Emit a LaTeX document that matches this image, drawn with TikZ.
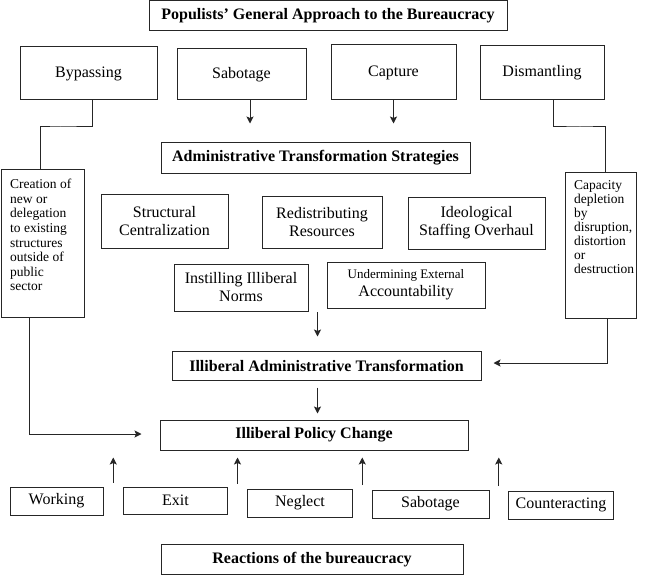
\documentclass[tikz,border=0pt]{standalone}
\usepackage{fontspec}
\setmainfont{Liberation Serif}
\usetikzlibrary{arrows.meta, positioning, calc}

\tikzset{
  box/.style={draw=black!85, line width=1pt, inner sep=0pt, align=center, font=\fontsize{16}{18}\selectfont},
  hdr/.style={box, font=\fontsize{16}{18}\selectfont\bfseries},
  sz/.style 2 args={minimum width=#1pt, minimum height=#2pt},
  sidetext/.style={inner sep=0pt, align=left, font=\fontsize{13.5}{#1}\selectfont},
  link/.style={line width=1pt, black!85},
  arr/.style={link, -{Stealth[length=7pt,width=7pt,inset=1.5pt]}},
}

\begin{document}
\begin{tikzpicture}[x=1pt,y=-1pt]
    \useasboundingbox (0,0) rectangle (645,575);

    % Top: general approach and the four routes
    \node[hdr, sz={358}{30}] (title) at (328,16) {Populists’ General Approach to the Bureaucracy};
    \node[box, sz={137}{53}] (byp)  at (88.5,73.5) {Bypassing};
    \node[box, sz={129}{51}] (sabA) at (241.5,74.5) {Sabotage};
    \node[box, sz={125}{55}] (capt) at (393.5,72.5) {Capture};
    \node[box, sz={124}{54}] (dism) at (542,73) {Dismantling};

    % Strategies
    \node[hdr, sz={309}{30}] (ats) at (315.5,158) {Administrative Transformation Strategies};
    \node[box, sz={127}{54}] (struc)  at (164.5,221) {Structural\\Centralization};
    \node[box, sz={120}{52}] (redis)  at (322,222) {Redistributing\\Resources};
    \node[box, sz={137}{52}] (ideo)   at (476.5,223) {Ideological\\Staffing Overhaul};
    \node[box, sz={134}{47}] (instil) at (241,287.5) {Instilling Illiberal\\Norms};
    \node[box, sz={158}{46}] (under)  at (406,285) {{\fontsize{13}{15}\selectfont Undermining External}\\Accountability};

    % Side boxes
    \node[box, sz={83}{148}] (creat) at (42.5,243) {};
    \node[sidetext=14.6, anchor=north west] (creatT) at (10,179)
        {Creation of\\new or\\delegation\\to existing\\structures\\outside of\\public\\sector};
    \node[box, sz={71}{146}] (capa) at (600.5,245) {};
    \node[sidetext=14, anchor=north west] (capaT) at (574,180.5)
        {Capacity\\depletion\\by\\disruption,\\distortion\\or\\destruction};

    % Outcomes
    \node[hdr, sz={309}{29}] (iat) at (326.5,365.5) {Illiberal Administrative Transformation};
    \node[hdr, sz={308}{30}] (ipc) at (314,435) {Illiberal Policy Change};

    % Reactions
    \node[box, sz={93}{28}]  (work) at (56.5,501) {Working};
    \node[box, sz={104}{27}] (exit) at (175.5,500.5) {Exit};
    \node[box, sz={105}{28}] (negl) at (300,503) {Neglect};
    \node[box, sz={117}{28}] (sabB) at (430.5,504) {Sabotage};
    \node[box, sz={105}{28}] (coun) at (561,505) {Counteracting};
    \node[hdr, sz={302}{30}] (react) at (312,559.5) {Reactions of the bureaucracy};

    % Connectors
    \coordinate (bendL) at (60,127);
    \coordinate (bendR) at (580,127);
    \coordinate (gapU) at (317.5,312);
    \draw[link] ([xshift=4pt]byp.south) |- (bendL) -| ([xshift=-2.5pt]creat.north);
    \draw[link] ([xshift=11pt]dism.south) |- (bendR) -| ([xshift=4.5pt]capa.north);
    \draw[arr, shorten >=19pt] ([xshift=8.5pt]sabA.south) -- ([xshift=8.5pt]sabA.south |- ats.north);
    \draw[arr, shorten >=19pt] (capt.south) -- (capt.south |- ats.north);
    \draw[arr, shorten >=14pt] (gapU) -- (gapU |- iat.north);
    \draw[arr, shorten <=7pt, shorten >=6pt] (iat.south -| gapU) -- (ipc.north -| gapU);
    \draw[arr, shorten >=12pt] ([xshift=7pt]capa.south) |- ([yshift=2.5pt]iat.east);
    \draw[arr, shorten >=18pt] ([xshift=-13pt]creat.south) |- ([yshift=1pt]ipc.west);
    \foreach \a/\b in {work/exit, exit/negl, negl/sabB, sabB/coun} {
        \coordinate (g\a) at ($(\a.north east)!0.5!(\b.north west)$);
        \draw[arr, shorten <=4pt, shorten >=7pt] (g\a) -- (g\a |- ipc.south);
    }
\end{tikzpicture}
\end{document}
